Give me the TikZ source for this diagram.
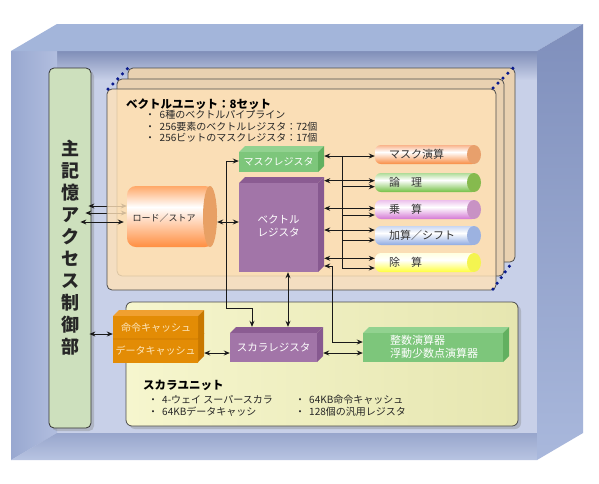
\documentclass[tikz,border=0pt]{standalone}
\usepackage{fontspec}
\newfontfamily\jp{Noto Sans CJK JP}
\usetikzlibrary{arrows.meta,shadows,fit}
\definecolor{topface}{HTML}{A3B5DA}
\definecolor{rightA}{HTML}{7F8FBC}
\definecolor{rightB}{HTML}{A9B8DC}
\definecolor{backwall}{HTML}{C8D0E8}
\definecolor{wallshade}{HTML}{7F8EB8}
\definecolor{leftA}{HTML}{98A8D0}
\definecolor{leftB}{HTML}{B2BEDF}
\definecolor{floorA}{HTML}{98A6CC}
\definecolor{floorB}{HTML}{B8C4E2}
\definecolor{memgreen}{HTML}{CDE0BD}
\definecolor{boardfront}{HTML}{FFE2B8}
\definecolor{boardback}{HTML}{E9D1B1}
\definecolor{scalarA}{HTML}{F6F6CE}
\definecolor{scalarB}{HTML}{E6E6B0}
\definecolor{dotblue}{HTML}{0A1A8C}
\definecolor{purpF}{HTML}{A275A8}
\definecolor{purpT}{HTML}{8B5C92}
\definecolor{purpS}{HTML}{875990}
\definecolor{grnF}{HTML}{7DC67B}
\definecolor{grnT}{HTML}{92D290}
\definecolor{grnS}{HTML}{62B060}
\definecolor{orgF}{HTML}{E38C05}
\definecolor{orgL}{HTML}{F2A83A}
\definecolor{orgT}{HTML}{F0A030}
\definecolor{orgS}{HTML}{C87800}
\definecolor{cachetext}{HTML}{FDE6BB}
\definecolor{pmT}{HTML}{F9B48C}\definecolor{pmB}{HTML}{F88C42}\definecolor{pmE}{HTML}{E8A06C}
\definecolor{plT}{HTML}{B0DC98}\definecolor{plB}{HTML}{74C044}\definecolor{plE}{HTML}{86BA4E}
\definecolor{pxT}{HTML}{ECC0EC}\definecolor{pxB}{HTML}{D478D4}\definecolor{pxE}{HTML}{C892C4}
\definecolor{paT}{HTML}{C8D6F2}\definecolor{paB}{HTML}{8EAAE2}\definecolor{paE}{HTML}{9CB2E0}
\definecolor{pdT}{HTML}{FFFFE0}\definecolor{pdB}{HTML}{FFFF3C}\definecolor{pdE}{HTML}{F4F450}
\definecolor{lsT}{HTML}{FFA868}\definecolor{lsB}{HTML}{FF8E40}\definecolor{lsE}{HTML}{E8A064}

\newcommand\mythreebox[8]{%
  \fill[#7] (#2,#3) -- (#2+6,#3-6) -- (#4+6,#3-6) -- (#4,#3) -- cycle;
  \fill[#8] (#4,#3) -- (#4+6,#3-6) -- (#4+6,#5-6) -- (#4,#5) -- cycle;
  \fill[#6] (#2,#3) rectangle (#4,#5);
  \coordinate (#1-a) at (#2,#3-6);
  \coordinate (#1-b) at (#4+6,#5);
  \node[fit=(#1-a)(#1-b), inner sep=0pt] (#1) {};
}
\newcommand\mypipe[6]{%
  \begin{scope}
    \clip[rounded corners=6pt] (375,#2) rectangle (478,#2+19);
    \shade[top color=#3, bottom color=white] (375,#2) rectangle (478,#2+7);
    \shade[top color=white, bottom color=#4] (375,#2+7) rectangle (478,#2+19);
  \end{scope}
  \fill[#5] (474,#2+9.5) ellipse [x radius=7pt, y radius=9.5pt];
  \coordinate (#1-a) at (375,#2);
  \coordinate (#1-b) at (481,#2+19);
  \node[fit=(#1-a)(#1-b), inner sep=0pt] (#1) {};
  \node[pipetext, anchor=west] (#1-t) at (389,#2+9.5) {#6};
}

\begin{document}
\begin{tikzpicture}[x=1pt,y=-1pt,
  conn/.style={draw=black!90, line width=0.9pt},
  dbl/.style={conn,{Stealth[length=6pt,width=5pt]}-{Stealth[length=6pt,width=5pt]}},
  sgl/.style={conn,-{Stealth[length=6pt,width=5pt]}},
  regtxt/.style={text=white, font=\jp\fontsize{10.5}{13}\selectfont, inner sep=0pt, align=center},
  pipetext/.style={text=black!80, font=\jp\fontsize{11}{13}\selectfont, inner sep=0pt},
  bullet/.style={anchor=west, inner sep=0pt, font=\jp\fontsize{10}{12}\selectfont, text=black!85},
  unittitle/.style={anchor=west, inner sep=0pt, font=\jp\bfseries\fontsize{11.5}{13}\selectfont, text=black},
  board/.style={draw=black!70, line width=0.8pt, rounded corners=5pt},
  dots/.style={dotblue, line width=3.5pt, line cap=round, dash pattern=on 0pt off 7pt},
  shadowed/.style={drop shadow={shadow xshift=3pt, shadow yshift=-3pt, opacity=0.35}}
]
\useasboundingbox (0,0) rectangle (599,483);
\fill[white] (0,0) rectangle (599,483);

% ---- outer box
\fill[backwall] (11,51) rectangle (537,460);
\shade[top color=wallshade, bottom color=backwall] (57,51) rectangle (537,80);
\shade[left color=leftA, right color=leftB] (11,51) -- (57,51) -- (57,433) -- (11,460) -- cycle;
\shade[top color=floorA, bottom color=floorB] (11,460) -- (57,433) -- (537,433) -- (537,460) -- cycle;
\fill[topface] (11,51) -- (57,24) -- (583,24) -- (537,51) -- cycle;
\shade[top color=rightA, bottom color=rightB] (537,51) -- (583,24) -- (583,433) -- (537,460) -- cycle;

% ---- memory access controller
\node[draw=black!80, line width=0.8pt, fill=memgreen, rounded corners=5pt,
      minimum width=42pt, minimum height=360pt, inner sep=0pt, shadowed,
      align=center, text=black!85, font=\jp\bfseries\fontsize{18}{22}\selectfont]
      (mem) at (70,248) {主\\記\\憶\\ア\\ク\\セ\\ス\\制\\御\\部};

% ---- load/store node (frame only, drawn later)
\coordinate (ls-a) at (127,186);
\coordinate (ls-b) at (217,247);
\node[fit=(ls-a)(ls-b), inner sep=0pt] (ls) {};

% ---- vector unit boards
\draw[board, fill=boardback] (128,68) rectangle (515,262);
\draw[board, fill=boardback] (117,79) rectangle (504,276);
\draw[dbl] ([xshift=-3pt]mem.east |- 0,206) -- (ls.west |- 0,206);
\draw[dbl] ([xshift=-6pt]mem.east |- 0,213) -- (ls.west |- 0,213);
\draw[board, fill=boardfront, fill opacity=0.8] (107,89) rectangle (496,290);
\draw[dots] (108,89) -- (128,68);
\draw[dots] (493,88) -- (513,68);
\draw[dots] (493,289) -- (513,261);

\node[unittitle] (vtitle) at (126,104) {ベクトルユニット：8セット};
\node[bullet] (vb1) at (145,115) {・\hspace{4.5pt}6種のベクトルパイプライン};
\node[bullet] (vb2) at (145,126.5) {・\hspace{4.5pt}256要素のベクトルレジスタ：72個};
\node[bullet] (vb3) at (145,137.5) {・\hspace{4.5pt}256ビットのマスクレジスタ：17個};

% ---- scalar unit board
\draw[board, rounded corners=6pt, left color=scalarA, right color=scalarB, shadowed] (126,302) rectangle (518,426);
\node[unittitle] (stitle) at (143,385) {スカラユニット};
\node[bullet] (sb1) at (148,400) {・\hspace{4pt}4-ウェイ スーパースカラ};
\node[bullet] (sb2) at (148,412) {・\hspace{4pt}64KBデータキャッシ};
\node[bullet] (sb3) at (295,400) {・\hspace{4pt}64KB命令キャッシュ};
\node[bullet] (sb4) at (295,412) {・\hspace{4pt}128個の汎用レジスタ};

% ---- load/store cylinder
\begin{scope}
  \clip[rounded corners=9pt] (127,186) rectangle (214,247);
  \shade[top color=lsT, bottom color=white] (127,186) rectangle (214,207);
  \shade[top color=white, bottom color=lsB] (127,207) rectangle (214,247);
\end{scope}
\fill[lsE] (210,216.5) ellipse [x radius=7pt, y radius=30.5pt];
\node[font=\jp\fontsize{9}{11}\selectfont, text=black!85, inner sep=0pt] (ls-t) at (164,218) {ロード／ストア};

% ---- registers
\mythreebox{maskreg}{239}{152}{318}{172}{grnF}{grnT}{grnS}
\node[regtxt, font=\jp\fontsize{10}{12}\selectfont] (maskreg-t) at (278.5,162) {マスクレジスタ};
\mythreebox{vecreg}{239}{183}{318}{272}{purpF}{purpT}{purpS}
\node[regtxt] (vecreg-t) at (278.5,225.5) {ベクトル\\レジスタ};
\mythreebox{scareg}{230}{333}{317}{362}{purpF}{purpT}{purpS}
\node[regtxt] (scareg-t) at (273.5,347.5) {スカラレジスタ};
\mythreebox{intu}{363}{333}{503}{362}{grnF}{grnT}{grnS}
\node[regtxt, anchor=west, align=left, font=\jp\fontsize{11}{12.7}\selectfont] (intu-t) at (390,347) {整数演算器\\浮動少数点演算器};
\mythreebox{cache}{113}{316}{198}{362}{orgF}{orgT}{orgS}
\shade[top color=orgF, middle color=orgL, bottom color=orgF] (113,316) rectangle (198,339);
\shade[top color=orgF, middle color=orgL, bottom color=orgF] (113,339) rectangle (198,362);
\draw[orgS, line width=0.8pt] (113,339) -- (198,339) -- (204,333);
\node[text=cachetext, font=\jp\fontsize{10}{12}\selectfont, inner sep=0pt] (cacheI-t) at (156,327.5) {命令キャッシュ};
\node[text=cachetext, font=\jp\fontsize{10}{12}\selectfont, inner sep=0pt] (cacheD-t) at (155.5,350.5) {データキャッシュ};

% ---- pipelines
\mypipe{pmask}{145}{pmT}{pmB}{pmE}{マスク演算}
\mypipe{plogic}{173}{plT}{plB}{plE}{論　理}
\mypipe{pmul}{200}{pxT}{pxB}{pxE}{乗　算}
\mypipe{padd}{226}{paT}{paB}{paE}{加算／シフト}
\mypipe{pdiv}{253}{pdT}{pdB}{pdE}{除　算}

% ---- connectors
\coordinate (bustop) at (342,156);
\coordinate (busbot) at (342,268);
\draw[conn] (bustop) -- (busbot);
\draw[dbl] (maskreg.east |- 0,156) -- (pmask.west |- 0,156);
\draw[dbl] (vecreg.east |- 0,180.7) -- (plogic.west |- 0,180.7);
\draw[sgl] (bustop |- 0,186.7) -- (plogic.west |- 0,186.7);
\draw[dbl] (vecreg.east |- 0,208.3) -- (pmul.west |- 0,208.3);
\draw[sgl] (bustop |- 0,215) -- (pmul.west |- 0,215);
\draw[dbl] (vecreg.east |- 0,230) -- (padd.west |- 0,230);
\draw[sgl] (bustop |- 0,240) -- (padd.west |- 0,240);
\draw[dbl] (vecreg.east |- 0,258.3) -- (pdiv.west |- 0,258.3);
\draw[sgl] (busbot) -- (pdiv.west |- busbot);

\draw[dbl] ([xshift=-11pt]mem.east |- 0,222) -- ([xshift=-3pt]ls.west |- 0,222);
\draw[dbl] (ls.east |- 0,222) -- (vecreg.west |- 0,222);
\draw[dbl] (maskreg.west |- 0,161) -| (226,308) -| (scareg.north -| 252,0);
\draw[dbl] (vecreg.south -| 288,0) -- (scareg.north -| 288,0);
\draw[dbl] (vecreg.east |- 0,266) -| (332,342) -- (intu.west |- 0,342);
\draw[dbl] (scareg.east |- 0,353) -- (intu.west |- 0,353);
\draw[dbl] (cache.east |- 0,353) -- (scareg.west |- 0,353);
\draw[dbl] ([xshift=-2pt]mem.east |- 0,334) -- (cache.west |- 0,334);
\end{tikzpicture}
\end{document}
